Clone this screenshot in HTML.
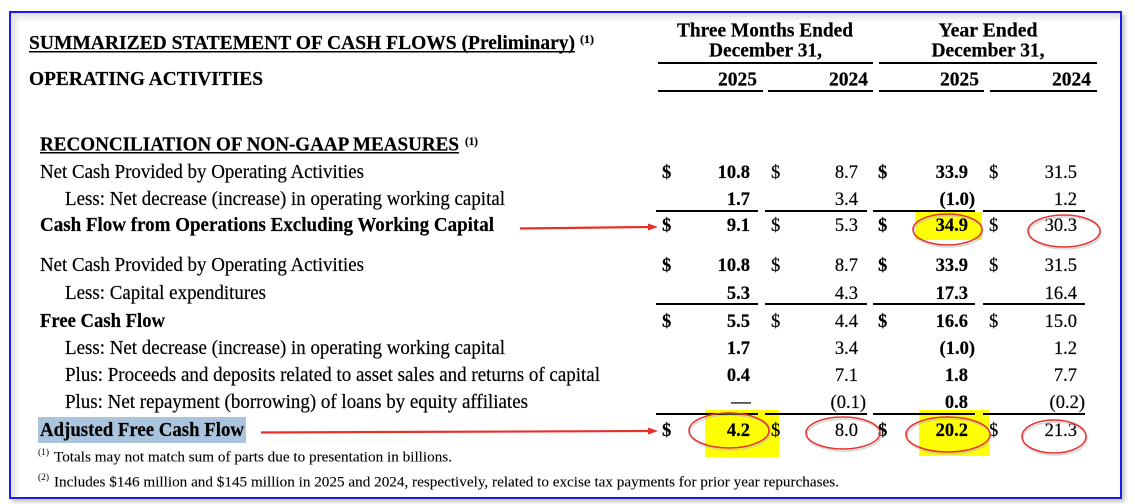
<!DOCTYPE html>
<html>
<head>
<meta charset="utf-8">
<style>
  html, body { margin:0; padding:0; background:#ffffff; }
  body { width:1135px; height:504px; position:relative; overflow:hidden; }
  .frame {
    position:absolute; left:9px; top:11px; width:1113px; height:488px;
    box-sizing:border-box; border:2px solid #1c1ce8;
    box-shadow: 3px 3px 4px rgba(0,0,0,0.22), inset 5px 5px 6px rgba(0,0,0,0.12);
    background:#ffffff;
  }
  svg { position:absolute; left:0; top:0; }
  text { font-family:"Liberation Serif", "Times New Roman", serif; fill:#000; stroke:#000; stroke-width:0.2; }
  .b { font-weight:bold; }
</style>
</head>
<body>
<div class="frame"></div>
<svg width="1135" height="504" viewBox="0 0 1135 504" xmlns="http://www.w3.org/2000/svg">
  <!-- background highlights -->
  <rect x="38" y="417" width="208" height="26" fill="#a9c4dc"/>
  <rect x="915" y="212" width="67" height="28" fill="#ffff00"/>
  <rect x="705" y="410" width="74" height="47" fill="#ffff00"/>
  <rect x="919" y="410" width="70" height="46" fill="#ffff00"/>

  <!-- title -->
  <text class="b" x="29" y="49" font-size="20" textLength="546" lengthAdjust="spacingAndGlyphs">SUMMARIZED STATEMENT OF CASH FLOWS (Preliminary)</text>
  <rect x="29" y="51" width="546" height="1.5" fill="#000"/>
  <text class="b" x="580" y="43" font-size="11.5" textLength="14" lengthAdjust="spacingAndGlyphs">(1)</text>

  <text class="b" x="29" y="85" font-size="20" textLength="234" lengthAdjust="spacingAndGlyphs">OPERATING ACTIVITIES</text>

  <!-- column headers -->
  <text class="b" x="765" y="36.5" font-size="19.8" text-anchor="middle" textLength="176" lengthAdjust="spacingAndGlyphs">Three Months Ended</text>
  <text class="b" x="765.5" y="56.5" font-size="19.8" text-anchor="middle" textLength="113" lengthAdjust="spacingAndGlyphs">December 31,</text>
  <text class="b" x="988" y="36.5" font-size="19.8" text-anchor="middle" textLength="99" lengthAdjust="spacingAndGlyphs">Year Ended</text>
  <text class="b" x="988" y="56.5" font-size="19.8" text-anchor="middle" textLength="113" lengthAdjust="spacingAndGlyphs">December 31,</text>

  <rect x="658" y="62" width="215" height="2" fill="#000"/>
  <rect x="879" y="62" width="218" height="2" fill="#000"/>

  <text class="b" x="757" y="85.5" font-size="19.5" text-anchor="end">2025</text>
  <text class="b" x="868" y="85.5" font-size="19.5" text-anchor="end">2024</text>
  <text class="b" x="979" y="85.5" font-size="19.5" text-anchor="end">2025</text>
  <text class="b" x="1091" y="85.5" font-size="19.5" text-anchor="end">2024</text>

  <rect x="658" y="90" width="105" height="2" fill="#000"/>
  <rect x="768" y="90" width="105" height="2" fill="#000"/>
  <rect x="879" y="90" width="105" height="2" fill="#000"/>
  <rect x="990" y="90" width="107" height="2" fill="#000"/>

  <!-- reconciliation heading -->
  <text class="b" x="40" y="150.5" font-size="20" textLength="419" lengthAdjust="spacingAndGlyphs">RECONCILIATION OF NON-GAAP MEASURES</text>
  <rect x="40" y="152" width="419" height="1.5" fill="#000"/>
  <text class="b" x="465" y="145" font-size="11.5" textLength="13" lengthAdjust="spacingAndGlyphs">(1)</text>

  <!-- row labels -->
  <text x="40" y="178" font-size="19.5" textLength="324" lengthAdjust="spacingAndGlyphs">Net Cash Provided by Operating Activities</text>
  <text x="65" y="205" font-size="19.5" textLength="440" lengthAdjust="spacingAndGlyphs">Less: Net decrease (increase) in operating working capital</text>
  <text class="b" x="40" y="231" font-size="19.5" textLength="454" lengthAdjust="spacingAndGlyphs">Cash Flow from Operations Excluding Working Capital</text>
  <text x="40" y="271" font-size="19.5" textLength="324" lengthAdjust="spacingAndGlyphs">Net Cash Provided by Operating Activities</text>
  <text x="65" y="299" font-size="19.5" textLength="201" lengthAdjust="spacingAndGlyphs">Less: Capital expenditures</text>
  <text class="b" x="40" y="327" font-size="19.5" textLength="125" lengthAdjust="spacingAndGlyphs">Free Cash Flow</text>
  <text x="65" y="354" font-size="19.5" textLength="440" lengthAdjust="spacingAndGlyphs">Less: Net decrease (increase) in operating working capital</text>
  <text x="65" y="381" font-size="19.5" textLength="535" lengthAdjust="spacingAndGlyphs">Plus: Proceeds and deposits related to asset sales and returns of capital</text>
  <text x="65" y="408" font-size="19.5" textLength="463" lengthAdjust="spacingAndGlyphs">Plus: Net repayment (borrowing) of loans by equity affiliates</text>
  <text class="b" x="40" y="436" font-size="19.5" textLength="204" lengthAdjust="spacingAndGlyphs">Adjusted Free Cash Flow</text>

  <!-- footnotes -->
  <text x="38" y="455" font-size="9.5" style="stroke-width:0">(1)</text>
  <text x="54" y="461.5" font-size="14.5" textLength="398" lengthAdjust="spacingAndGlyphs" style="stroke-width:0.1">Totals may not match sum of parts due to presentation in billions.</text>
  <text x="38" y="480" font-size="9.5" style="stroke-width:0">(2)</text>
  <text x="54" y="486.5" font-size="14.5" textLength="785" lengthAdjust="spacingAndGlyphs" style="stroke-width:0.1">Includes $146 million and $145 million in 2025 and 2024, respectively, related to excise tax payments for prior year repurchases.</text>

  <!-- dollar signs (rows 1,3,4,6,10) -->
  <g font-size="18.5">
    <text class="b" x="662" y="178">$</text><text x="771" y="178">$</text><text class="b" x="878" y="178">$</text><text x="989" y="178">$</text>
    <text class="b" x="662" y="231">$</text><text x="771" y="231">$</text><text class="b" x="878" y="231">$</text><text x="989" y="231">$</text>
    <text class="b" x="662" y="271">$</text><text x="771" y="271">$</text><text class="b" x="878" y="271">$</text><text x="989" y="271">$</text>
    <text class="b" x="662" y="327">$</text><text x="771" y="327">$</text><text class="b" x="878" y="327">$</text><text x="989" y="327">$</text>
    <text class="b" x="662" y="436">$</text><text x="771" y="436">$</text><text class="b" x="878" y="436">$</text><text x="989" y="436">$</text>
  </g>

  <!-- numbers -->
  <g font-size="18.5" text-anchor="end">
    <text class="b" x="750" y="178">10.8</text><text x="858" y="178">8.7</text><text class="b" x="968" y="178">33.9</text><text x="1077" y="178">31.5</text>
    <text class="b" x="750" y="205">1.7</text><text x="858" y="205">3.4</text><text class="b" x="975" y="205">(1.0)</text><text x="1077" y="205">1.2</text>
    <text class="b" x="750" y="231">9.1</text><text x="858" y="231">5.3</text><text class="b" x="968" y="231">34.9</text><text x="1077" y="231">30.3</text>
    <text class="b" x="750" y="271">10.8</text><text x="858" y="271">8.7</text><text class="b" x="968" y="271">33.9</text><text x="1077" y="271">31.5</text>
    <text class="b" x="750" y="299">5.3</text><text x="858" y="299">4.3</text><text class="b" x="968" y="299">17.3</text><text x="1077" y="299">16.4</text>
    <text class="b" x="750" y="327">5.5</text><text x="858" y="327">4.4</text><text class="b" x="968" y="327">16.6</text><text x="1077" y="327">15.0</text>
    <text class="b" x="750" y="354">1.7</text><text x="858" y="354">3.4</text><text class="b" x="975" y="354">(1.0)</text><text x="1077" y="354">1.2</text>
    <text class="b" x="750" y="381">0.4</text><text x="858" y="381">7.1</text><text class="b" x="968" y="381">1.8</text><text x="1077" y="381">7.7</text>
    <text x="866" y="408">(0.1)</text><text class="b" x="968" y="408">0.8</text><text x="1085" y="408">(0.2)</text>
    <text class="b" x="750" y="436">4.2</text><text x="858" y="436">8.0</text><text class="b" x="968" y="436">20.2</text><text x="1077" y="436">21.3</text>
  </g>
  <!-- dash -->
  <rect x="731" y="402" width="20" height="1.8" fill="#555"/>

  <!-- body sum lines -->
  <g fill="#000">
    <rect x="656" y="210" width="102" height="2"/><rect x="765" y="210" width="102" height="2"/><rect x="873" y="210" width="102" height="2"/><rect x="983" y="210" width="102" height="2"/>
    <rect x="656" y="303" width="102" height="2"/><rect x="765" y="303" width="102" height="2"/><rect x="873" y="303" width="102" height="2"/><rect x="983" y="303" width="102" height="2"/>
    <rect x="656" y="413" width="102" height="2"/><rect x="765" y="413" width="102" height="2"/><rect x="873" y="413" width="102" height="2"/><rect x="983" y="413" width="102" height="2"/>
  </g>

  <!-- ellipses (shadow + red) -->
  <g fill="none" stroke="#bbbbbb" stroke-width="1.5" opacity="0.6">
    <ellipse cx="948.5" cy="231.5" rx="34.5" ry="15.5"/>
    <ellipse cx="1065" cy="233" rx="36" ry="16"/>
    <ellipse cx="730" cy="432.5" rx="40" ry="17.5"/>
    <ellipse cx="844" cy="435" rx="37" ry="16"/>
    <ellipse cx="949" cy="436.5" rx="42" ry="17.5"/>
    <ellipse cx="1055" cy="438.5" rx="32" ry="16.5"/>
  </g>
  <g fill="none" stroke="#e5332c" stroke-width="1.5">
    <ellipse cx="947.5" cy="229.5" rx="34.5" ry="15.5"/>
    <ellipse cx="1064" cy="231" rx="36" ry="16"/>
    <ellipse cx="729" cy="430.5" rx="40" ry="17.5"/>
    <ellipse cx="843" cy="433" rx="37" ry="16"/>
    <ellipse cx="948" cy="434.5" rx="42" ry="17.5"/>
    <ellipse cx="1054" cy="436.5" rx="32" ry="16.5"/>
  </g>

  <!-- arrows -->
  <line x1="520" y1="228.5" x2="650" y2="227" stroke="#e8302a" stroke-width="2.2"/>
  <polygon points="658,227 648,223.5 648,230.5" fill="#e8302a"/>
  <line x1="261" y1="432.5" x2="650" y2="431" stroke="#e8302a" stroke-width="2.2"/>
  <polygon points="658,431 648,427.5 648,434.5" fill="#e8302a"/>
</svg>
</body>
</html>
